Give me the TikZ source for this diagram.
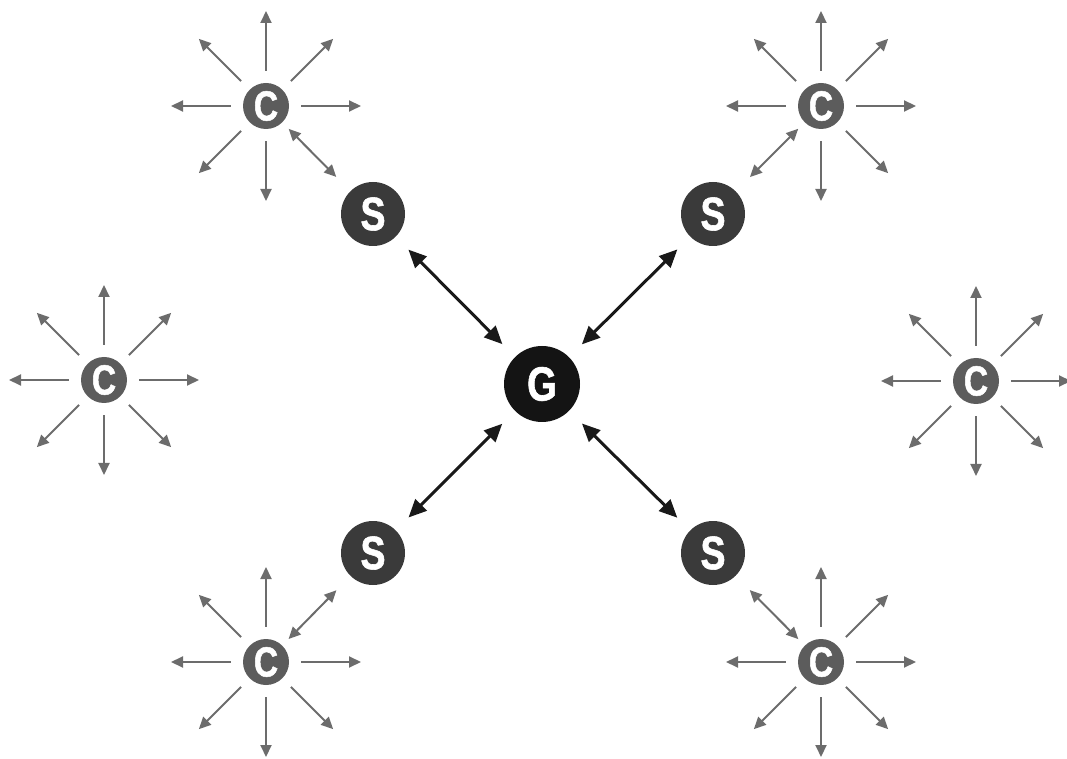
\documentclass[tikz,border=0pt]{standalone}
\usepackage{fontspec}
\newfontfamily\letterfont{Liberation Sans}[FakeStretch=0.8,FakeBold=1.2]
\usepackage{tikz}
\usetikzlibrary{arrows.meta,calc}
\definecolor{cgray}{HTML}{5C5C5C}
\definecolor{sgray}{HTML}{3A3A3A}
\definecolor{spokegray}{HTML}{6C6C6C}
\tikzstyle{gnode}=[circle,fill=black!92,minimum size=76pt,inner sep=0pt,text=white,font=\letterfont\bfseries\fontsize{48}{48}\selectfont]
\tikzstyle{snode}=[circle,fill=sgray,minimum size=64pt,inner sep=0pt,text=white,font=\letterfont\bfseries\fontsize{47}{47}\selectfont]
\tikzstyle{cnode}=[circle,fill=cgray,minimum size=46pt,inner sep=0pt,text=white,font=\letterfont\bfseries\fontsize{42}{42}\selectfont]
\tikzstyle{link}=[{Triangle[length=18pt,width=16pt]}-{Triangle[length=18pt,width=16pt]},black!90,line width=3pt,shorten <=18pt,shorten >=18pt]
\tikzstyle{cslink}=[{Triangle[length=12pt,width=11pt]}-{Triangle[length=12pt,width=11pt]},spokegray,line width=2pt,shorten <=9pt,shorten >=20pt]
\tikzstyle{spoke}=[-{Triangle[length=12pt,width=11pt]},spokegray,line width=2pt,shorten <=12pt]

\begin{document}
\begin{tikzpicture}[x=1pt,y=1pt]
    \useasboundingbox (0,0) rectangle (1067,758);
    \node [gnode] (g) at (542,374) {G};
    \node [snode] (s1) at (373,544) {S};
    \node [snode] (s2) at (713,544) {S};
    \node [snode] (s3) at (373,205) {S};
    \node [snode] (s4) at (713,205) {S};
    \node [cnode] (c1) at (266,652) {C};
    \node [cnode] (c2) at (821,652) {C};
    \node [cnode] (c3) at (104,378) {C};
    \node [cnode] (c4) at (976,377) {C};
    \node [cnode] (c5) at (266,96) {C};
    \node [cnode] (c6) at (821,96) {C};
    \foreach \s in {s1,s2,s3,s4}
      \draw [link] (g) -- (\s);
    \draw [cslink] (c1) -- (s1);
    \draw [cslink] (c2) -- (s2);
    \draw [cslink] (c5) -- (s3);
    \draw [cslink] (c6) -- (s4);
    % spokes, the one towards the server is left out
    \foreach \c/\skip in {c1/315,c2/225,c3/-1,c4/-1,c5/45,c6/135}
      \foreach \a in {0,45,...,315} {
        \ifnum\a=\skip\relax\else
          \coordinate (\c-\a) at ($(\c)+(\a:95)$);
          \draw [spoke] (\c) -- (\c-\a);
        \fi
      };
\end{tikzpicture}
\end{document}
